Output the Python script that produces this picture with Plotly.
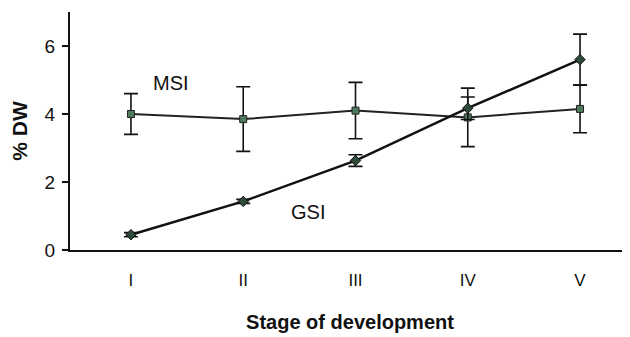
import plotly.graph_objects as go

stages = ["I", "II", "III", "IV", "V"]
msi = [4.0, 3.85, 4.1, 3.9, 4.15]
msi_err = [0.6, 0.95, 0.83, 0.86, 0.7]
gsi = [0.45, 1.43, 2.63, 4.17, 5.6]
gsi_err = [0.06, 0.06, 0.17, 0.33, 0.75]
y_ticks = [0, 2, 4, 6]

xi = list(range(len(stages)))

fig = go.Figure()
fig.add_trace(go.Scatter(
    x=xi, y=msi, mode="lines+markers",
    line=dict(color="#222", width=2),
    marker=dict(symbol="square", size=7, color="#4d7a5c", line=dict(color="#222", width=1)),
    error_y=dict(type="data", array=msi_err, visible=True, color="#111", thickness=1.6, width=7),
    showlegend=False,
))
fig.add_trace(go.Scatter(
    x=xi, y=gsi, mode="lines+markers",
    line=dict(color="#111", width=2.5),
    marker=dict(symbol="diamond", size=8, color="#2e4a3a", line=dict(color="#111", width=1)),
    error_y=dict(type="data", array=gsi_err, visible=True, color="#111", thickness=1.6, width=7),
    showlegend=False,
))

fig.add_annotation(x=0.356, y=4.91, text="MSI", showarrow=False, xref="x", yref="y",
                   font=dict(family="Liberation Sans, Arial", size=20, color="#111"))
fig.add_annotation(x=1.58, y=1.12, text="GSI", showarrow=False, xref="x", yref="y",
                   font=dict(family="Liberation Sans, Arial", size=20, color="#111"))

fig.update_layout(
    width=622, height=329,
    margin=dict(l=62, r=0, t=4, b=87),
    paper_bgcolor="white", plot_bgcolor="white",
    font=dict(family="Liberation Sans, Arial", color="#111"),
    xaxis=dict(
        range=[-0.543, 4.445], tickmode="array", tickvals=xi, ticktext=stages,
        showgrid=False, zeroline=False, showline=True, linecolor="#111", linewidth=2,
        ticks="", tickfont=dict(size=17), ticklabelstandoff=14,
        title=dict(text="<b>Stage of development</b>", font=dict(size=20), standoff=26),
    ),
    yaxis=dict(
        range=[0, 7], tickmode="array", tickvals=y_ticks,
        showgrid=False, zeroline=False, showline=True, linecolor="#111", linewidth=2,
        ticks="outside", ticklen=6, tickwidth=2, tickcolor="#111", tickfont=dict(size=19),
        ticklabelstandoff=3,
        title=dict(text="<b>% DW</b>", font=dict(size=21), standoff=12),
    ),
)

fig.write_html("out.html")
